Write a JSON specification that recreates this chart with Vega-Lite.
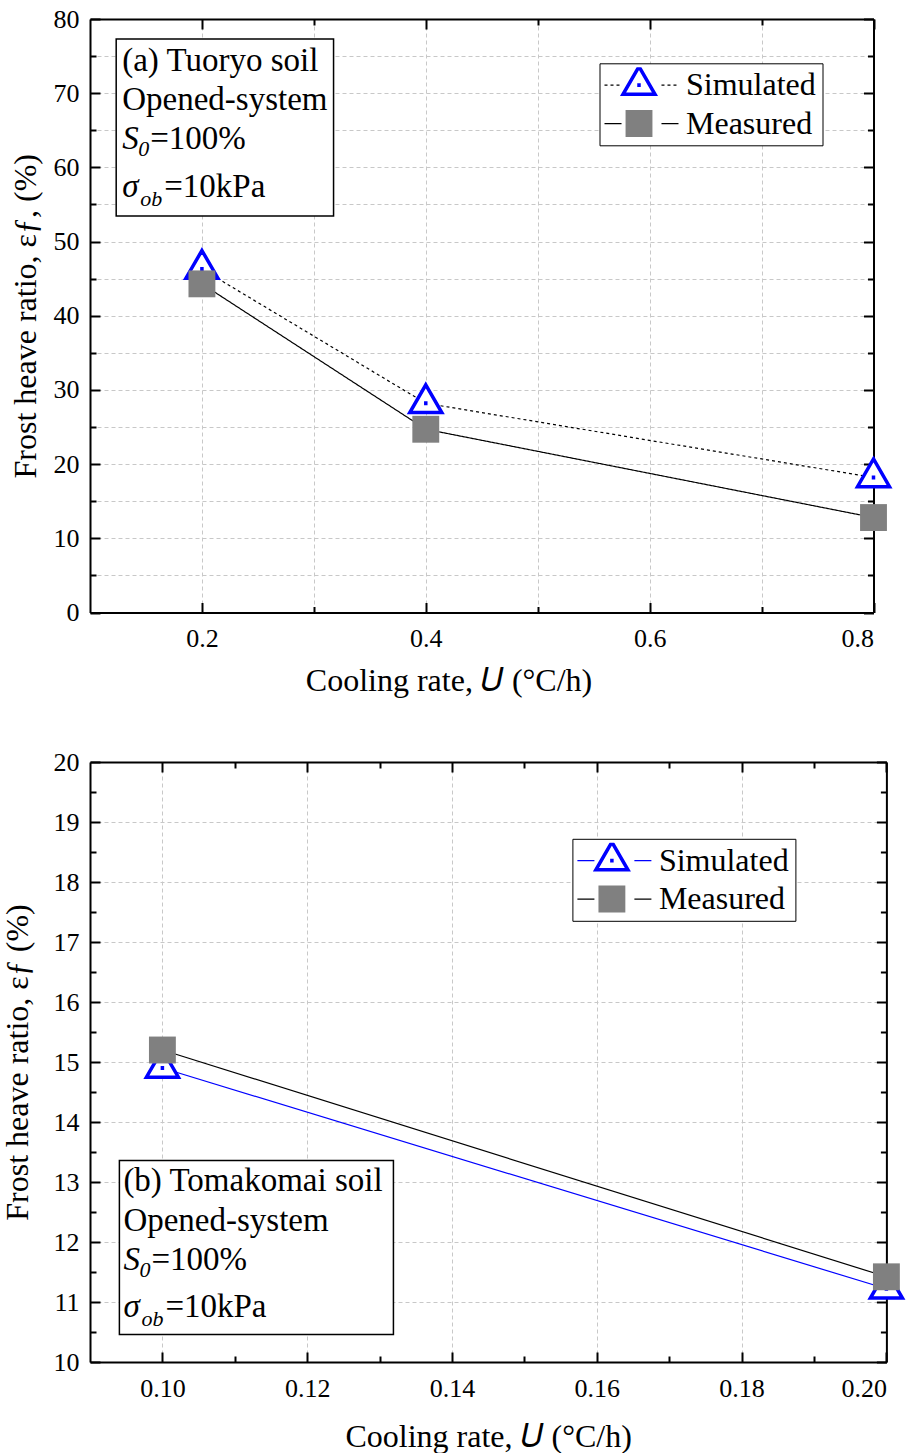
{
  "$schema": "https://vega.github.io/schema/vega-lite/v6.json",
  "background": "white",
  "padding": {"left": 1, "top": 6, "right": 0, "bottom": 0},
  "bounds": "flush",
  "datasets": {
    "tuoryo": [
      {"U": 0.2, "series": "Simulated", "ratio": 46.3},
      {"U": 0.4, "series": "Simulated", "ratio": 28.2},
      {"U": 0.8, "series": "Simulated", "ratio": 18.2},
      {"U": 0.2, "series": "Measured", "ratio": 44.3},
      {"U": 0.4, "series": "Measured", "ratio": 24.7},
      {"U": 0.8, "series": "Measured", "ratio": 12.8}
    ],
    "tomakomai": [
      {"U": 0.1, "series": "Simulated", "ratio": 14.9},
      {"U": 0.2, "series": "Simulated", "ratio": 11.22},
      {"U": 0.1, "series": "Measured", "ratio": 15.2},
      {"U": 0.2, "series": "Measured", "ratio": 11.42}
    ]
  },
  "resolve": {
    "scale": {"stroke": "independent", "strokeDash": "independent", "shape": "independent", "fill": "independent", "color": "independent"},
    "legend": {"stroke": "independent", "strokeDash": "independent", "shape": "independent", "fill": "independent", "color": "independent"}
  },
  "vconcat": [
    {
      "width": 783.5,
      "height": 593.5,
      "data": {"name": "tuoryo"},
      "resolve": {"axis": {"x": "independent", "y": "independent"}},
      "layer": [
        {
          "mark": {"type": "line", "strokeWidth": 1.2},
          "encoding": {
            "x": {"field": "U", "type": "quantitative",
              "scale": {"domain": [0.1, 0.8], "nice": false, "zero": false},
              "axis": {"orient": "bottom", "values": [0.2, 0.4, 0.6, 0.8], "format": ".1f",
                "tickSize": -10, "tickWidth": 2, "tickColor": "black",
                "domainWidth": 2, "domainColor": "black",
                "labelPadding": 23, "labelFontSize": 26, "labelColor": "black", "labelFont": "Liberation Serif",
                "title": "Cooling rate, 𝑈 (°C/h)", "titleFont": "Liberation Serif", "titleFontSize": 32,
                "titleFontWeight": "normal", "titleColor": "black", "titlePadding": 14, "titleX": 358.5,
                "grid": true, "gridColor": "#c8c8c8", "gridDash": [4, 3], "gridWidth": 1}},
            "y": {"field": "ratio", "type": "quantitative",
              "scale": {"domain": [0, 80], "nice": false, "zero": false},
              "axis": {"orient": "left", "values": [0, 10, 20, 30, 40, 50, 60, 70, 80],
                "tickSize": -10, "tickWidth": 2, "tickColor": "black",
                "domainWidth": 2, "domainColor": "black",
                "labelPadding": 21, "labelFontSize": 26, "labelColor": "black", "labelFont": "Liberation Serif",
                "title": "Frost heave ratio, εƒ, (%)", "titleFont": "Liberation Serif", "titleFontSize": 32,
                "titleFontWeight": "normal", "titleColor": "black", "titlePadding": 10.5,
                "grid": true, "gridColor": "#c8c8c8", "gridDash": [4, 3], "gridWidth": 1}},
            "stroke": {"field": "series", "type": "nominal",
              "scale": {"domain": ["Simulated", "Measured"], "range": ["black", "black"]},
              "legend": {"orient": "none", "legendX": 509.5, "legendY": 44.3, "direction": "vertical",
                "title": null, "padding": 4, "strokeColor": "black", "fillColor": "white",
                "symbolType": "M-1,0L-0.54,0M0.54,0L1,0", "symbolSize": 5476,
                "symbolStrokeWidth": 1.2,
                "clipHeight": 35.5, "rowPadding": 2.5,
                "labelFont": "Liberation Serif", "labelFontSize": 32, "labelOpacity": 0,
                "labelOffset": 9, "labelLimit": 0}},
            "strokeDash": {"field": "series", "type": "nominal",
              "scale": {"domain": ["Simulated", "Measured"], "range": [[3, 3], [1, 0]]},
              "legend": {"orient": "none", "legendX": 509.5, "legendY": 44.3, "direction": "vertical",
                "title": null, "padding": 4, "strokeColor": "black", "fillColor": "white",
                "symbolType": "M-1,0L-0.54,0M0.54,0L1,0", "symbolSize": 5476,
                "symbolStrokeWidth": 1.2,
                "clipHeight": 35.5, "rowPadding": 2.5,
                "labelFont": "Liberation Serif", "labelFontSize": 32, "labelOpacity": 0,
                "labelOffset": 9, "labelLimit": 0}}
          }
        },
        {
          "mark": {"type": "point", "size": 1024, "strokeWidth": 3.5, "opacity": 1, "filled": false},
          "encoding": {
            "x": {"field": "U", "type": "quantitative",
              "axis": {"orient": "top", "values": [0.2, 0.4, 0.6, 0.8], "labels": false, "title": null,
                "tickSize": -10, "tickWidth": 2, "tickColor": "black",
                "domainWidth": 2, "domainColor": "black", "grid": false}},
            "y": {"field": "ratio", "type": "quantitative",
              "axis": {"orient": "right", "values": [0, 10, 20, 30, 40, 50, 60, 70, 80], "labels": false, "title": null,
                "tickSize": -10, "tickWidth": 2, "tickColor": "black",
                "domainWidth": 2, "domainColor": "black", "grid": false}},
            "shape": {"field": "series", "type": "nominal", "sort": "descending",
              "scale": {"range": ["M0,-1.155L1,0.577L-1,0.577ZM0,-0.12L0,0.12", "M-0.84,-0.84L0.84,-0.84L0.84,0.84L-0.84,0.84Z"]},
              "legend": {"orient": "none", "legendX": 509.5, "legendY": 44.3, "direction": "vertical",
                "title": null, "padding": 4, "clipHeight": 35.5, "rowPadding": 2.5,
                "symbolSize": 1024, "symbolStrokeWidth": 3.5, "symbolOffset": 17.5, "labelOffset": 29,
                "labelFont": "Liberation Serif", "labelFontSize": 32, "labelColor": "black", "labelLimit": 0}},
            "fill": {"field": "series", "type": "nominal", "sort": "descending",
              "scale": {"range": ["white", "#808080"]},
              "legend": {"orient": "none", "legendX": 509.5, "legendY": 44.3, "direction": "vertical",
                "title": null, "padding": 4, "clipHeight": 35.5, "rowPadding": 2.5,
                "symbolSize": 1024, "symbolStrokeWidth": 3.5, "symbolOffset": 17.5, "labelOffset": 29,
                "labelFont": "Liberation Serif", "labelFontSize": 32, "labelColor": "black", "labelLimit": 0}},
            "color": {"field": "series", "type": "nominal", "sort": "descending",
              "scale": {"range": ["#0000ff", "transparent"]},
              "legend": {"orient": "none", "legendX": 509.5, "legendY": 44.3, "direction": "vertical",
                "title": null, "padding": 4, "clipHeight": 35.5, "rowPadding": 2.5,
                "symbolSize": 1024, "symbolStrokeWidth": 3.5, "symbolOffset": 17.5, "labelOffset": 29,
                "labelFont": "Liberation Serif", "labelFontSize": 32, "labelColor": "black", "labelLimit": 0}}
          }
        },
        {
          "data": {"values": [{}]},
          "mark": {"type": "rect", "fill": "white", "stroke": "black", "strokeWidth": 1.5},
          "encoding": {
            "x": {"datum": 0.1234, "type": "quantitative",
              "axis": {"orient": "bottom", "values": [0.3, 0.5, 0.7], "labels": false, "title": null, "domain": false,
                "tickSize": -6, "tickWidth": 2, "tickColor": "black",
                "grid": true, "gridColor": "#c8c8c8", "gridDash": [4, 3], "gridWidth": 1}},
            "x2": {"datum": 0.3176},
            "y": {"datum": 77.3, "type": "quantitative",
              "axis": {"orient": "left", "values": [5, 15, 25, 35, 45, 55, 65, 75], "labels": false, "title": null, "domain": false,
                "tickSize": -6, "tickWidth": 2, "tickColor": "black",
                "grid": true, "gridColor": "#c8c8c8", "gridDash": [4, 3], "gridWidth": 1}},
            "y2": {"datum": 53.45}
          }
        },
        {
          "data": {"values": [{}]},
          "mark": {"type": "text", "font": "Liberation Serif", "fontSize": 33, "align": "left", "baseline": "alphabetic", "color": "black"},
          "encoding": {
            "x": {"datum": 0.1288, "type": "quantitative",
              "axis": {"orient": "top", "values": [0.3, 0.5, 0.7], "labels": false, "title": null, "domain": false,
                "tickSize": -6, "tickWidth": 2, "tickColor": "black", "grid": false}},
            "y": {"datum": 72.99, "type": "quantitative",
              "axis": {"orient": "right", "values": [5, 15, 25, 35, 45, 55, 65, 75], "labels": false, "title": null, "domain": false,
                "tickSize": -6, "tickWidth": 2, "tickColor": "black", "grid": false}},
            "text": {"value": "(a) Tuoryo soil"}
          }
        },
        {
          "data": {"values": [{}]},
          "mark": {"type": "text", "font": "Liberation Serif", "fontSize": 33, "align": "left", "baseline": "alphabetic", "color": "black"},
          "encoding": {
            "x": {"datum": 0.1288, "type": "quantitative", "axis": null},
            "y": {"datum": 67.74, "type": "quantitative", "axis": null},
            "text": {"value": "Opened-system"}
          }
        },
        {
          "data": {"values": [{}]},
          "mark": {"type": "text", "font": "Liberation Serif", "fontSize": 33, "fontStyle": "italic", "align": "left", "baseline": "alphabetic", "color": "black"},
          "encoding": {
            "x": {"datum": 0.1288, "type": "quantitative", "axis": null},
            "y": {"datum": 62.44, "type": "quantitative", "axis": null},
            "text": {"value": "S"}
          }
        },
        {
          "data": {"values": [{}]},
          "mark": {"type": "text", "font": "Liberation Serif", "fontSize": 22, "fontStyle": "italic", "align": "left", "baseline": "alphabetic", "color": "black", "dx": 16, "dy": 7},
          "encoding": {
            "x": {"datum": 0.1288, "type": "quantitative", "axis": null},
            "y": {"datum": 62.44, "type": "quantitative", "axis": null},
            "text": {"value": "0"}
          }
        },
        {
          "data": {"values": [{}]},
          "mark": {"type": "text", "font": "Liberation Serif", "fontSize": 33, "align": "left", "baseline": "alphabetic", "color": "black", "dx": 28},
          "encoding": {
            "x": {"datum": 0.1288, "type": "quantitative", "axis": null},
            "y": {"datum": 62.44, "type": "quantitative", "axis": null},
            "text": {"value": "=100%"}
          }
        },
        {
          "data": {"values": [{}]},
          "mark": {"type": "text", "font": "Liberation Serif", "fontSize": 33, "fontStyle": "italic", "align": "left", "baseline": "alphabetic", "color": "black"},
          "encoding": {
            "x": {"datum": 0.1288, "type": "quantitative", "axis": null},
            "y": {"datum": 56.05, "type": "quantitative", "axis": null},
            "text": {"value": "σ"}
          }
        },
        {
          "data": {"values": [{}]},
          "mark": {"type": "text", "font": "Liberation Serif", "fontSize": 22, "fontStyle": "italic", "align": "left", "baseline": "alphabetic", "color": "black", "dx": 18, "dy": 9},
          "encoding": {
            "x": {"datum": 0.1288, "type": "quantitative", "axis": null},
            "y": {"datum": 56.05, "type": "quantitative", "axis": null},
            "text": {"value": "ob"}
          }
        },
        {
          "data": {"values": [{}]},
          "mark": {"type": "text", "font": "Liberation Serif", "fontSize": 33, "align": "left", "baseline": "alphabetic", "color": "black", "dx": 42},
          "encoding": {
            "x": {"datum": 0.1288, "type": "quantitative", "axis": null},
            "y": {"datum": 56.05, "type": "quantitative", "axis": null},
            "text": {"value": "=10kPa"}
          }
        }
      ]
    },
    {
      "width": 796.4,
      "height": 600,
      "data": {"name": "tomakomai"},
      "resolve": {"axis": {"x": "independent", "y": "independent"}},
      "layer": [
        {
          "mark": {"type": "line", "strokeWidth": 1.2},
          "encoding": {
            "x": {"field": "U", "type": "quantitative",
              "scale": {"domain": [0.09, 0.2], "nice": false, "zero": false},
              "axis": {"orient": "bottom", "values": [0.1, 0.12, 0.14, 0.16, 0.18, 0.2], "format": ".2f",
                "tickSize": -10, "tickWidth": 2, "tickColor": "black",
                "domainWidth": 2, "domainColor": "black",
                "labelPadding": 23, "labelFontSize": 26, "labelColor": "black", "labelFont": "Liberation Serif",
                "title": "Cooling rate, 𝑈 (°C/h)", "titleFont": "Liberation Serif", "titleFontSize": 32,
                "titleFontWeight": "normal", "titleColor": "black", "titlePadding": 20.5,
                "grid": true, "gridColor": "#c8c8c8", "gridDash": [4, 3], "gridWidth": 1}},
            "y": {"field": "ratio", "type": "quantitative",
              "scale": {"domain": [10, 20], "nice": false, "zero": false},
              "axis": {"orient": "left", "values": [10, 11, 12, 13, 14, 15, 16, 17, 18, 19, 20],
                "tickSize": -10, "tickWidth": 2, "tickColor": "black",
                "domainWidth": 2, "domainColor": "black",
                "labelPadding": 21, "labelFontSize": 26, "labelColor": "black", "labelFont": "Liberation Serif",
                "title": "Frost heave ratio, εƒ (%)", "titleFont": "Liberation Serif", "titleFontSize": 32,
                "titleFontWeight": "normal", "titleColor": "black", "titlePadding": 18.6,
                "grid": true, "gridColor": "#c8c8c8", "gridDash": [4, 3], "gridWidth": 1}},
            "stroke": {"field": "series", "type": "nominal",
              "scale": {"domain": ["Simulated", "Measured"], "range": ["#0000ff", "black"]},
              "legend": {"orient": "none", "legendX": 482.4, "legendY": 76.8, "direction": "vertical",
                "title": null, "padding": 4, "strokeColor": "black", "fillColor": "white",
                "symbolType": "M-1,0L-0.54,0M0.54,0L1,0", "symbolSize": 5476,
                "symbolStrokeWidth": 1.2,
                "clipHeight": 35.5, "rowPadding": 2.5,
                "labelFont": "Liberation Serif", "labelFontSize": 32, "labelOpacity": 0,
                "labelOffset": 9, "labelLimit": 0}}
          }
        },
        {
          "mark": {"type": "point", "size": 1024, "strokeWidth": 3.5, "opacity": 1, "filled": false},
          "encoding": {
            "x": {"field": "U", "type": "quantitative",
              "axis": {"orient": "top", "values": [0.1, 0.12, 0.14, 0.16, 0.18, 0.2], "labels": false, "title": null,
                "tickSize": -10, "tickWidth": 2, "tickColor": "black",
                "domainWidth": 2, "domainColor": "black", "grid": false}},
            "y": {"field": "ratio", "type": "quantitative",
              "axis": {"orient": "right", "values": [10, 11, 12, 13, 14, 15, 16, 17, 18, 19, 20], "labels": false, "title": null,
                "tickSize": -10, "tickWidth": 2, "tickColor": "black",
                "domainWidth": 2, "domainColor": "black", "grid": false}},
            "shape": {"field": "series", "type": "nominal", "sort": "descending",
              "scale": {"range": ["M0,-1.155L1,0.577L-1,0.577ZM0,-0.12L0,0.12", "M-0.84,-0.84L0.84,-0.84L0.84,0.84L-0.84,0.84Z"]},
              "legend": {"orient": "none", "legendX": 482.4, "legendY": 76.8, "direction": "vertical",
                "title": null, "padding": 4, "clipHeight": 35.5, "rowPadding": 2.5,
                "symbolSize": 1024, "symbolStrokeWidth": 3.5, "symbolOffset": 17.5, "labelOffset": 29,
                "labelFont": "Liberation Serif", "labelFontSize": 32, "labelColor": "black", "labelLimit": 0}},
            "fill": {"field": "series", "type": "nominal", "sort": "descending",
              "scale": {"range": ["white", "#808080"]},
              "legend": {"orient": "none", "legendX": 482.4, "legendY": 76.8, "direction": "vertical",
                "title": null, "padding": 4, "clipHeight": 35.5, "rowPadding": 2.5,
                "symbolSize": 1024, "symbolStrokeWidth": 3.5, "symbolOffset": 17.5, "labelOffset": 29,
                "labelFont": "Liberation Serif", "labelFontSize": 32, "labelColor": "black", "labelLimit": 0}},
            "color": {"field": "series", "type": "nominal", "sort": "descending",
              "scale": {"range": ["#0000ff", "transparent"]},
              "legend": {"orient": "none", "legendX": 482.4, "legendY": 76.8, "direction": "vertical",
                "title": null, "padding": 4, "clipHeight": 35.5, "rowPadding": 2.5,
                "symbolSize": 1024, "symbolStrokeWidth": 3.5, "symbolOffset": 17.5, "labelOffset": 29,
                "labelFont": "Liberation Serif", "labelFontSize": 32, "labelColor": "black", "labelLimit": 0}}
          }
        },
        {
          "data": {"values": [{}]},
          "mark": {"type": "rect", "fill": "white", "stroke": "black", "strokeWidth": 1.5},
          "encoding": {
            "x": {"datum": 0.09406, "type": "quantitative",
              "axis": {"orient": "bottom", "values": [0.11, 0.13, 0.15, 0.17, 0.19], "labels": false, "title": null, "domain": false,
                "tickSize": -6, "tickWidth": 2, "tickColor": "black", "grid": false}},
            "x2": {"datum": 0.13191},
            "y": {"datum": 13.358, "type": "quantitative",
              "axis": {"orient": "left", "values": [10.5, 11.5, 12.5, 13.5, 14.5, 15.5, 16.5, 17.5, 18.5, 19.5], "labels": false, "title": null, "domain": false,
                "tickSize": -6, "tickWidth": 2, "tickColor": "black", "grid": false}},
            "y2": {"datum": 10.458}
          }
        },
        {
          "data": {"values": [{}]},
          "mark": {"type": "text", "font": "Liberation Serif", "fontSize": 33, "align": "left", "baseline": "alphabetic", "color": "black"},
          "encoding": {
            "x": {"datum": 0.09461, "type": "quantitative",
              "axis": {"orient": "top", "values": [0.11, 0.13, 0.15, 0.17, 0.19], "labels": false, "title": null, "domain": false,
                "tickSize": -6, "tickWidth": 2, "tickColor": "black", "grid": false}},
            "y": {"datum": 12.847, "type": "quantitative",
              "axis": {"orient": "right", "values": [10.5, 11.5, 12.5, 13.5, 14.5, 15.5, 16.5, 17.5, 18.5, 19.5], "labels": false, "title": null, "domain": false,
                "tickSize": -6, "tickWidth": 2, "tickColor": "black", "grid": false}},
            "text": {"value": "(b) Tomakomai soil"}
          }
        },
        {
          "data": {"values": [{}]},
          "mark": {"type": "text", "font": "Liberation Serif", "fontSize": 33, "align": "left", "baseline": "alphabetic", "color": "black"},
          "encoding": {
            "x": {"datum": 0.09461, "type": "quantitative", "axis": null},
            "y": {"datum": 12.18, "type": "quantitative", "axis": null},
            "text": {"value": "Opened-system"}
          }
        },
        {
          "data": {"values": [{}]},
          "mark": {"type": "text", "font": "Liberation Serif", "fontSize": 33, "fontStyle": "italic", "align": "left", "baseline": "alphabetic", "color": "black"},
          "encoding": {
            "x": {"datum": 0.09461, "type": "quantitative", "axis": null},
            "y": {"datum": 11.54, "type": "quantitative", "axis": null},
            "text": {"value": "S"}
          }
        },
        {
          "data": {"values": [{}]},
          "mark": {"type": "text", "font": "Liberation Serif", "fontSize": 22, "fontStyle": "italic", "align": "left", "baseline": "alphabetic", "color": "black", "dx": 16, "dy": 7},
          "encoding": {
            "x": {"datum": 0.09461, "type": "quantitative", "axis": null},
            "y": {"datum": 11.54, "type": "quantitative", "axis": null},
            "text": {"value": "0"}
          }
        },
        {
          "data": {"values": [{}]},
          "mark": {"type": "text", "font": "Liberation Serif", "fontSize": 33, "align": "left", "baseline": "alphabetic", "color": "black", "dx": 28},
          "encoding": {
            "x": {"datum": 0.09461, "type": "quantitative", "axis": null},
            "y": {"datum": 11.54, "type": "quantitative", "axis": null},
            "text": {"value": "=100%"}
          }
        },
        {
          "data": {"values": [{}]},
          "mark": {"type": "text", "font": "Liberation Serif", "fontSize": 33, "fontStyle": "italic", "align": "left", "baseline": "alphabetic", "color": "black"},
          "encoding": {
            "x": {"datum": 0.09461, "type": "quantitative", "axis": null},
            "y": {"datum": 10.747, "type": "quantitative", "axis": null},
            "text": {"value": "σ"}
          }
        },
        {
          "data": {"values": [{}]},
          "mark": {"type": "text", "font": "Liberation Serif", "fontSize": 22, "fontStyle": "italic", "align": "left", "baseline": "alphabetic", "color": "black", "dx": 18, "dy": 9},
          "encoding": {
            "x": {"datum": 0.09461, "type": "quantitative", "axis": null},
            "y": {"datum": 10.747, "type": "quantitative", "axis": null},
            "text": {"value": "ob"}
          }
        },
        {
          "data": {"values": [{}]},
          "mark": {"type": "text", "font": "Liberation Serif", "fontSize": 33, "align": "left", "baseline": "alphabetic", "color": "black", "dx": 42},
          "encoding": {
            "x": {"datum": 0.09461, "type": "quantitative", "axis": null},
            "y": {"datum": 10.747, "type": "quantitative", "axis": null},
            "text": {"value": "=10kPa"}
          }
        }
      ]
    }
  ],
  "spacing": 149,
  "config": {
    "view": {"stroke": null},
    "font": "Liberation Serif"
  }
}
